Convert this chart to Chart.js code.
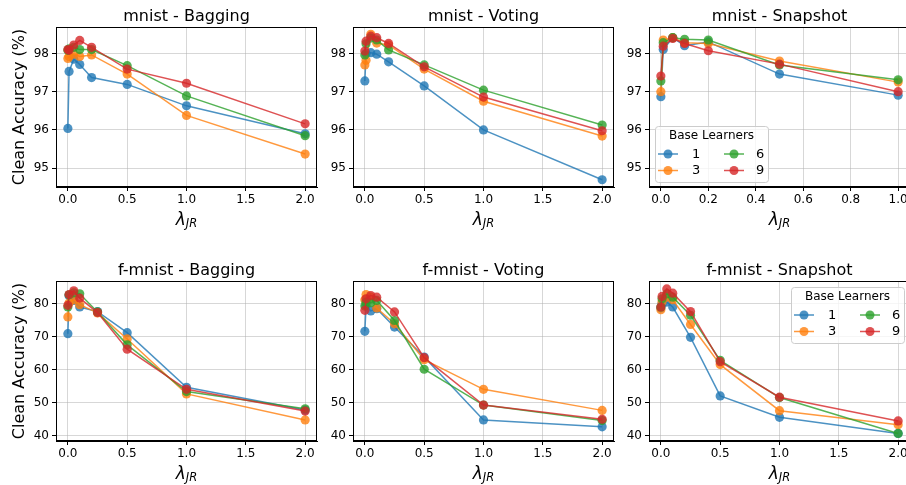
<!DOCTYPE html>
<html>
<head>
<meta charset="utf-8">
<script src="https://cdn.jsdelivr.net/npm/chart.js@4.4.1/dist/chart.umd.min.js"></script>
<style>
  html, body { margin: 0; padding: 0; background: #fff; }
  body { width: 906px; height: 485px; position: relative; overflow: hidden; }
  canvas { position: absolute; }
</style>
</head>
<body>
<canvas id="p0"></canvas>
<canvas id="p1"></canvas>
<canvas id="p2"></canvas>
<canvas id="p3"></canvas>
<canvas id="p4"></canvas>
<canvas id="p5"></canvas>
<script>
/* ---------- DATA ---------- */
const learners = ["1", "3", "6", "9"];

const lamMnist = [0, 0.01, 0.05, 0.1, 0.2, 0.5, 1.0, 2.0];
const lamMnistSnap = [0, 0.01, 0.05, 0.1, 0.2, 0.5, 1.0];
const lamFmnist = [0, 0.01, 0.05, 0.1, 0.25, 0.5, 1.0, 2.0];

const xTicks2 = [0, 0.5, 1.0, 1.5, 2.0];
const xTicks1 = [0, 0.2, 0.4, 0.6, 0.8, 1.0];
const yTicksMnist = [95, 96, 97, 98];
const yTicksFmnist = [40, 50, 60, 70, 80];

// mnist - Bagging
const mBag1 = [96.04, 97.53, 97.85, 97.71, 97.37, 97.19, 96.63, 95.90];
const mBag3 = [97.87, 97.92, 97.98, 97.92, 97.96, 97.46, 96.38, 95.37];
const mBag6 = [98.08, 98.12, 98.16, 98.10, 98.10, 97.68, 96.89, 95.85];
const mBag9 = [98.10, 98.08, 98.22, 98.34, 98.16, 97.59, 97.22, 96.16];

// mnist - Voting
const mVot1 = [97.28, 98.00, 98.02, 97.98, 97.78, 97.15, 96.00, 94.70];
const mVot3 = [97.70, 97.82, 98.50, 98.27, 98.22, 97.59, 96.75, 95.84];
const mVot6 = [97.96, 98.25, 98.40, 98.35, 98.09, 97.70, 97.04, 96.13];
const mVot9 = [98.06, 98.32, 98.45, 98.41, 98.26, 97.65, 96.86, 95.98];

// mnist - Snapshot
const mSnap1 = [96.87, 98.10, 98.41, 98.20, 98.30, 97.46, 96.91];
const mSnap3 = [97.00, 98.35, 98.41, 98.28, 98.26, 97.80, 97.25];
const mSnap6 = [97.28, 98.28, 98.41, 98.37, 98.35, 97.70, 97.31];
const mSnap9 = [97.41, 98.19, 98.39, 98.26, 98.07, 97.72, 97.00];

// f-mnist - Bagging
const fBag1 = [70.9, 82.4, 81.0, 79.0, 77.6, 71.2, 54.6, 47.7];
const fBag3 = [76.0, 80.2, 81.2, 79.7, 77.2, 69.3, 52.6, 44.7];
const fBag6 = [79.0, 82.7, 83.3, 83.0, 77.5, 67.5, 53.3, 48.1];
const fBag9 = [79.5, 82.8, 83.9, 81.7, 77.3, 66.2, 54.0, 47.4];

// f-mnist - Voting
const fVot1 = [71.6, 79.5, 77.8, 78.5, 72.9, 63.8, 44.7, 42.6];
const fVot3 = [81.2, 82.8, 82.0, 78.7, 73.9, 63.0, 54.0, 47.6];
const fVot6 = [79.3, 80.5, 80.3, 81.0, 74.9, 60.1, 49.2, 44.5];
const fVot9 = [78.0, 81.5, 82.5, 82.0, 77.5, 63.6, 49.2, 44.9];

// f-mnist - Snapshot
const fSnap1 = [78.7, 80.0, 80.5, 79.0, 69.8, 52.0, 45.5, 40.6];
const fSnap3 = [78.2, 80.5, 82.0, 81.2, 73.7, 61.5, 47.5, 43.2];
const fSnap6 = [79.0, 81.5, 83.0, 82.0, 76.5, 62.8, 51.5, 40.6];
const fSnap9 = [79.0, 82.2, 84.5, 83.2, 77.6, 62.4, 51.6, 44.4];

/* ---------- STYLE ---------- */
const colors = [
  "rgba(31,119,180,0.8)",
  "rgba(255,127,14,0.8)",
  "rgba(44,160,44,0.8)",
  "rgba(214,39,40,0.8)",
];
const FONT = '"DejaVu Sans", sans-serif';
const gridColor = "rgba(176,176,176,0.5)";

const AX_W = 261, AX_H = 160;
const PAD_L = 56, PAD_R = 12, PAD_T = 27, PAD_B = 50;
const colLeft = [56, 353, 649];
const rowTop = [27, 281];

const panels = [
  { title: "mnist - Bagging", xs: lamMnist, ys: [mBag1, mBag3, mBag6, mBag9],
    x: [-0.1, 2.1], xt: xTicks2, y: [94.51, 98.69], yt: yTicksMnist, col: 0, row: 0 },
  { title: "mnist - Voting", xs: lamMnist, ys: [mVot1, mVot3, mVot6, mVot9],
    x: [-0.1, 2.1], xt: xTicks2, y: [94.51, 98.69], yt: yTicksMnist, col: 1, row: 0 },
  { title: "mnist - Snapshot", xs: lamMnistSnap, ys: [mSnap1, mSnap3, mSnap6, mSnap9],
    x: [-0.05, 1.05], xt: xTicks1, y: [94.51, 98.69], yt: yTicksMnist, col: 2, row: 0,
    legend: { x: 6, y: 99 } },
  { title: "f-mnist - Bagging", xs: lamFmnist, ys: [fBag1, fBag3, fBag6, fBag9],
    x: [-0.1, 2.1], xt: xTicks2, y: [38.3, 86.9], yt: yTicksFmnist, col: 0, row: 1 },
  { title: "f-mnist - Voting", xs: lamFmnist, ys: [fVot1, fVot3, fVot6, fVot9],
    x: [-0.1, 2.1], xt: xTicks2, y: [38.3, 86.9], yt: yTicksFmnist, col: 1, row: 1 },
  { title: "f-mnist - Snapshot", xs: lamFmnist, ys: [fSnap1, fSnap3, fSnap6, fSnap9],
    x: [-0.1, 2.1], xt: xTicks2, y: [38.3, 86.9], yt: yTicksFmnist, col: 2, row: 1,
    legend: { x: 142, y: 6 } },
];

/* ---------- FRAME, TITLES, LABELS, LEGEND ---------- */
const deco = {
  id: "deco",
  afterDatasetsDraw(chart, args, opts) {
    const { ctx, chartArea: a } = chart;
    ctx.save();
    // spines
    ctx.strokeStyle = "#000";
    ctx.lineWidth = 1;
    ctx.strokeRect(a.left + 0.5, a.top + 0.5, a.right - a.left - 1, a.bottom - a.top - 1);

    // title
    const cx = (a.left + a.right) / 2;
    ctx.fillStyle = "#000";
    ctx.font = "16px " + FONT;
    ctx.textAlign = "center";
    ctx.textBaseline = "alphabetic";
    ctx.fillText(opts.title, cx, a.top - 6.5);

    // x label: lambda_JR
    const fMain = "italic 17px " + FONT;
    const fSub = "italic 11.5px " + FONT;
    ctx.font = fMain;
    const wL = ctx.measureText("λ").width;
    ctx.font = fSub;
    const wS = ctx.measureText("JR").width;
    const x0 = cx - (wL + wS) / 2;
    ctx.textAlign = "left";
    ctx.font = fMain;
    ctx.fillText("λ", x0, a.bottom + 38);
    ctx.font = fSub;
    ctx.fillText("JR", x0 + wL, a.bottom + 40);

    // y label on the first column
    if (opts.ylabel) {
      ctx.save();
      ctx.translate(20, (a.top + a.bottom) / 2);
      ctx.rotate(-Math.PI / 2);
      ctx.font = "16px " + FONT;
      ctx.textAlign = "center";
      ctx.textBaseline = "middle";
      ctx.fillText("Clean Accuracy (%)", 0, 0);
      ctx.restore();
    }

    // legend
    if (opts.legend) {
      const bx = a.left + opts.legend.x, by = a.top + opts.legend.y;
      const bw = 113, bh = 56;
      ctx.beginPath();
      ctx.roundRect(bx + 0.5, by + 0.5, bw, bh, 3);
      ctx.fillStyle = "rgba(255,255,255,0.8)";
      ctx.fill();
      ctx.strokeStyle = "#cccccc";
      ctx.stroke();
      ctx.fillStyle = "#000";
      ctx.font = "12px " + FONT;
      ctx.textAlign = "center";
      ctx.textBaseline = "middle";
      ctx.fillText("Base Learners", bx + bw / 2, by + 10);
      const cols = [{ m: 13, t: 37 }, { m: 79, t: 101 }];
      learners.forEach((lab, i) => {
        const c = cols[Math.floor(i / 2)];
        const yy = by + 28 + (i % 2) * 16.5;
        ctx.strokeStyle = colors[i];
        ctx.lineWidth = 1.5;
        ctx.beginPath();
        ctx.moveTo(bx + c.m - 10, yy);
        ctx.lineTo(bx + c.m + 10, yy);
        ctx.stroke();
        ctx.fillStyle = colors[i];
        ctx.beginPath();
        ctx.arc(bx + c.m, yy, 4.5, 0, Math.PI * 2);
        ctx.fill();
        ctx.fillStyle = "#000";
        ctx.textAlign = "left";
        ctx.font = "13px " + FONT;
        ctx.fillText(lab, bx + c.t, yy + 0.5);
      });
    }
    ctx.restore();
  },
};

/* ---------- CHARTS ---------- */
panels.forEach((p, k) => {
  const cv = document.getElementById("p" + k);
  const W = PAD_L + AX_W + PAD_R, H = PAD_T + AX_H + PAD_B;
  cv.width = W;
  cv.height = H;
  cv.style.width = W + "px";
  cv.style.height = H + "px";
  cv.style.left = colLeft[p.col] - PAD_L + "px";
  cv.style.top = rowTop[p.row] - PAD_T + "px";

  const datasets = p.ys.map((ys, i) => ({
    label: learners[i],
    data: p.xs.map((x, j) => ({ x: x, y: ys[j] })),
    showLine: true,
    borderColor: colors[i],
    backgroundColor: colors[i],
    pointBackgroundColor: colors[i],
    borderWidth: 1.5,
    pointRadius: 4.6,
    pointBorderWidth: 0,
    pointHoverRadius: 4.6,
    order: 4 - i,
  }));

  const tickFont = { family: FONT, size: 12 };

  new Chart(cv.getContext("2d"), {
    type: "scatter",
    data: { datasets },
    options: {
      responsive: false,
      animation: false,
      devicePixelRatio: 1,
      events: [],
      layout: { padding: { top: PAD_T, right: PAD_R, left: 0, bottom: 0 } },
      plugins: {
        legend: { display: false },
        tooltip: { enabled: false },
        deco: { title: p.title, ylabel: p.col === 0, legend: p.legend },
      },
      scales: {
        x: {
          type: "linear",
          min: p.x[0],
          max: p.x[1],
          afterFit: (s) => { s.height = PAD_B; },
          afterBuildTicks: (s) => { s.ticks = p.xt.map((v) => ({ value: v })); },
          ticks: {
            font: tickFont, color: "#000", padding: 2,
            maxRotation: 0, autoSkip: false,
            callback: (v) => Number(v).toFixed(1),
          },
          grid: { color: gridColor, lineWidth: 1, tickLength: 4, tickColor: "#000", drawTicks: true },
          border: { display: true, color: "#000", width: 1 },
        },
        y: {
          type: "linear",
          min: p.y[0],
          max: p.y[1],
          afterFit: (s) => { s.width = PAD_L; },
          afterBuildTicks: (s) => { s.ticks = p.yt.map((v) => ({ value: v })); },
          ticks: {
            font: tickFont, color: "#000", padding: 3,
            autoSkip: false,
            callback: (v) => String(v),
          },
          grid: { color: gridColor, lineWidth: 1, tickLength: 4, tickColor: "#000", drawTicks: true },
          border: { display: true, color: "#000", width: 1 },
        },
      },
    },
    plugins: [deco],
  });
});
</script>
</body>
</html>
